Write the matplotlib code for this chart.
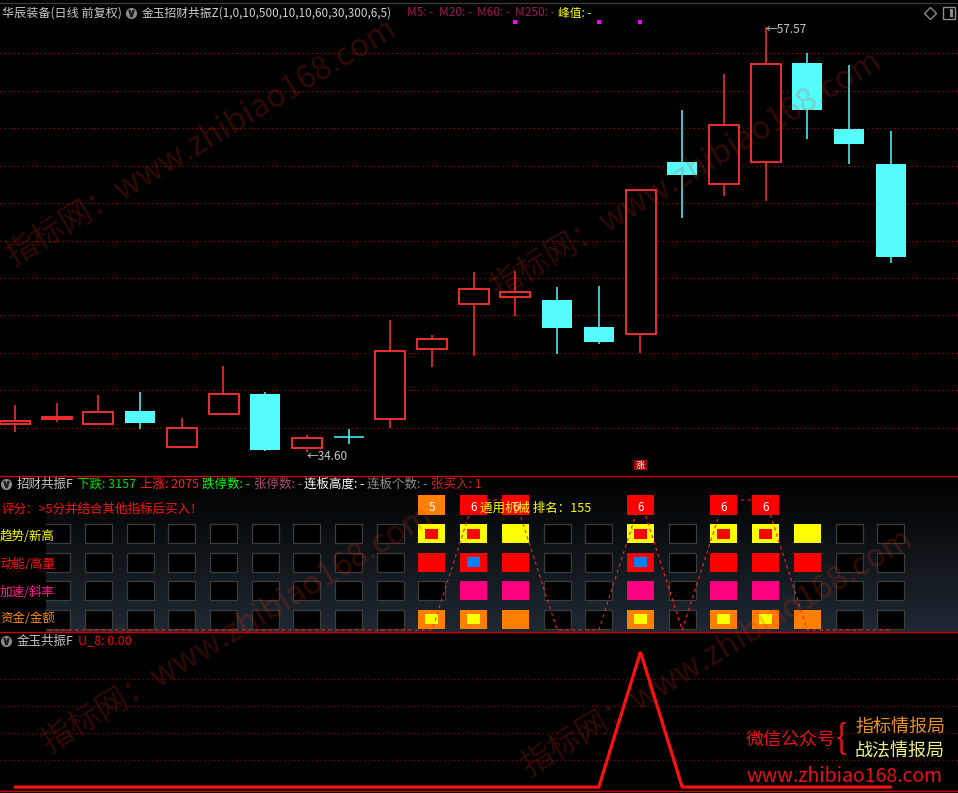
import numpy as np
import matplotlib.pyplot as plt
from matplotlib.patches import Rectangle
from matplotlib.lines import Line2D
from matplotlib.transforms import blended_transform_factory

plt.rcParams['font.family'] = ['Noto Sans CJK SC', 'DejaVu Sans']

# %% data (daily bars)
opens = [36.11, 36.38, 36.11, 36.81, 34.87, 36.65, 37.73, 34.81, 35.41, 36.38, 40.17,
         42.60, 42.98, 42.81, 41.35, 40.98, 50.27, 49.08, 50.27, 55.62, 52.06, 50.17]
highs = [37.14, 37.25, 37.68, 37.84, 36.44, 39.25, 37.84, 35.52, 35.84, 41.73, 40.92,
         44.33, 44.38, 43.52, 43.57, 48.76, 53.08, 55.03, 57.57, 56.16, 55.52, 51.95]
lows = [35.68, 36.22, 36.11, 35.84, 34.87, 36.65, 34.63, 34.60, 35.03, 35.90, 39.19,
        39.79, 41.95, 39.90, 40.44, 39.95, 47.25, 48.44, 48.17, 51.52, 50.17, 44.81]
closes = [36.27, 36.49, 36.76, 36.17, 35.90, 37.73, 34.71, 35.36, 35.41, 40.06, 40.71,
          43.41, 43.25, 41.30, 40.54, 48.76, 49.57, 52.27, 55.57, 53.08, 51.25, 45.14]
ma_idx = [12, 14, 15]
ma_val = [57.84, 57.84, 57.84]
zt_idx = [15]

# indicator panel: 0 = empty, 1 = filled, 2 = filled + inner mark
score = [0, 0, 0, 0, 0, 0, 0, 0, 0, 0, 5, 6, 6, 0, 0, 6, 0, 6, 6, 0, 0, 0]
trend = [0, 0, 0, 0, 0, 0, 0, 0, 0, 0, 2, 2, 1, 0, 0, 2, 0, 2, 2, 1, 0, 0]
momentum = [0, 0, 0, 0, 0, 0, 0, 0, 0, 0, 1, 2, 1, 0, 0, 2, 0, 1, 1, 1, 0, 0]
accel = [0, 0, 0, 0, 0, 0, 0, 0, 0, 0, 0, 1, 1, 0, 0, 1, 0, 1, 1, 0, 0, 0]
funds = [0, 0, 0, 0, 0, 0, 0, 0, 0, 0, 2, 2, 1, 0, 0, 2, 0, 2, 2, 1, 0, 0]
signal = [0, 0, 0, 0, 0, 0, 0, 0, 0, 0, 0, 1, 1, 0, 0, 1, 0, 1, 1, 0, 0, 0]
u8 = [0, 0, 0, 0, 0, 0, 0, 0, 0, 0, 0, 0, 0, 0, 0, 1.0, 0, 0, 0, 0, 0, 0]

row_names = ['趋势/新高', '动能/高量', '加速/斜率', '资金/金额']
row_label_colors = ['#ffff00', '#ff1010', '#ff2090', '#ff8c00']
cell_colors = ['#ffff00', '#ff0000', '#ff0080', '#ff8000']
inner_colors = ['#ff0000', '#0080ff', '#ff0080', '#ffff00']

# %% layout helpers (pixel coords, origin top-left)
W, H = 958, 793
RED = '#ff3232'
CYAN = '#54fcfc'
step = 41.7
x0 = 15


def fx(x):
    return x / W


def fy(y):
    return 1 - y / H


def rect_px(l, t, r, b):
    return [l / W, 1 - b / H, (r - l) / W, (b - t) / H]


def ftxt(x, y, s, color, size=9, **kw):
    fig.text(fx(x), fy(y), s, color=color, fontsize=size, va='center', ha='left', **kw)


def icon(x, y):
    fig.add_artist(Line2D([fx(x)], [fy(y)], marker='o', ms=8, mfc='#8c8c8c', mec='none',
                          transform=fig.transFigure))
    fig.add_artist(Line2D([fx(x)], [fy(y)], marker='$\\vee$', ms=4.5, mfc='#202020', mec='#202020',
                          transform=fig.transFigure))


fig = plt.figure(figsize=(W / 100, H / 100), dpi=100, facecolor='black')
ax1 = fig.add_axes(rect_px(0, 0, W, 475))
axbg = fig.add_axes(rect_px(0, 476, W, 632), zorder=0)
ax2 = fig.add_axes(rect_px(0, 476, W, 632), zorder=1)
ax3 = fig.add_axes(rect_px(0, 633, W, 793))

xlim = (-x0 / step, (W - x0) / step)
for ax in (ax1, ax2, ax3):
    ax.set_xlim(*xlim)
    ax.set_facecolor('black')
    for s in ax.spines.values():
        s.set_visible(False)
    ax.tick_params(length=0, labelleft=False, labelbottom=False)
    ax.set_xticks([])
    ax.set_axisbelow(True)
ax2.set_facecolor('none')

# gradient behind indicator panel
g = np.linspace(0, 1, 128)[:, None]
bottom = np.array([0.12, 0.16, 0.20])
img = g[:, :, None] * bottom[None, None, :]
axbg.imshow(img, aspect='auto', extent=[0, 1, 0, 1])
axbg.set_xlim(0, 1)
axbg.set_ylim(0, 1)
axbg.axis('off')

# %% main candle panel
n = len(opens)
idx = np.arange(n)
bw = 30 / step
for i in idx:
    o, h, l, c = opens[i], highs[i], lows[i], closes[i]
    if c > o:
        ax1.add_patch(Rectangle((i - bw / 2, o), bw, c - o, facecolor='black', edgecolor=RED,
                                lw=1.3, zorder=3))
        ax1.vlines(i, c, h, color=RED, lw=1.1, zorder=3)
        ax1.vlines(i, l, o, color=RED, lw=1.1, zorder=3)
    elif c < o:
        ax1.vlines(i, l, h, color=CYAN, lw=1.1, zorder=2)
        ax1.add_patch(Rectangle((i - bw / 2, c), bw, o - c, facecolor=CYAN, lw=0, zorder=3))
    else:
        ax1.vlines(i, l, h, color=CYAN, lw=1.1, zorder=3)
        ax1.hlines(o, i - bw / 2, i + bw / 2, color=CYAN, lw=1.1, zorder=3)

ax1.set_ylim(33.357, 59.029)
ax1.set_yticks(np.linspace(35.90, 56.16, 11))
ax1.grid(axis='y', color='#c00000', lw=0.8, linestyle=(0, (1, 3)))

ax1.scatter(ma_idx, ma_val, marker='s', s=5, color='#ff00ff', lw=0, zorder=4)

imax = int(np.argmax(highs))
imin = int(np.argmin(lows))
ax1.annotate(f'←{highs[imax]:.2f}', xy=(imax, highs[imax]), xytext=(0, -1.5),
             textcoords='offset points', color='#c8c8c8', fontsize=8.5, va='center', ha='left')
ax1.annotate(f'←{lows[imin]:.2f}', xy=(imin, lows[imin]), xytext=(0, -3),
             textcoords='offset points', color='#c8c8c8', fontsize=8.5, va='center', ha='left')

bt = blended_transform_factory(ax1.transData, ax1.transAxes)
for i in zt_idx:
    ax1.add_patch(Rectangle((i - 6.5 / step, 5 / 475), 13 / step, 10 / 475, transform=bt,
                            facecolor='#a00000', lw=0, zorder=4))
    ax1.text(i, 10 / 475, '涨', transform=bt, color='white', fontsize=6.5, ha='center',
             va='center', zorder=5)

# %% indicator grid panel
ax2.set_ylim((632 - 505) / 28.6, (476 - 505) / 28.6)
cw, ch = 27 / step, 19 / 28.6
iw, ih = 13 / step, 10 / 28.6
for r, vals in enumerate([trend, momentum, accel, funds], start=1):
    for i, v in enumerate(vals):
        if v == 0:
            ax2.add_patch(Rectangle((i - cw / 2, r - ch / 2), cw, ch, facecolor='black',
                                    edgecolor='#3c3c3c', lw=0.9, zorder=2))
        else:
            ax2.add_patch(Rectangle((i - cw / 2, r - ch / 2), cw, ch, facecolor=cell_colors[r - 1],
                                    lw=0, zorder=2))
            if v == 2:
                ax2.add_patch(Rectangle((i - iw / 2, r - ih / 2), iw, ih,
                                        facecolor=inner_colors[r - 1], lw=0, zorder=2.5))

r_lo, r_hi = (630 - 505) / 28.6, (500 - 505) / 28.6
ax2.plot(idx, r_lo + np.array(signal) * (r_hi - r_lo), color='#ff2020', lw=0.8,
         ls=(0, (3, 3)), zorder=3)

for i, s in enumerate(score):
    if s > 0:
        ax2.add_patch(Rectangle((i - cw / 2, -0.35), cw, 0.70,
                                facecolor='#ff8000' if s == 5 else '#ff0000', lw=0, zorder=4))
        ax2.text(i, 0.08, str(s), color='white', ha='center', va='center', fontsize=8.5, zorder=5)

ax2.add_patch(Rectangle((0, 0), 46 / W, 1, transform=ax2.transAxes, facecolor='black', lw=0,
                        zorder=6))

# %% bottom line panel
ax3.set_ylim(-0.044, 1.141)
ax3.set_yticks([0.2, 0.4, 0.6, 0.8])
ax3.grid(axis='y', color='#a00000', lw=0.8, linestyle=(0, (1, 3)))
ax3.plot(idx, u8, color='#ff1010', lw=2.3, solid_capstyle='round', solid_joinstyle='miter', zorder=3)

# %% separators and header texts
for yy, col in [(3, '#3a3a3a'), (476, '#d00000'), (632, '#d00000'), (791, '#d00000')]:
    fig.add_artist(Line2D([0, 1], [fy(yy), fy(yy)], color=col, lw=1, transform=fig.transFigure))

ftxt(2, 13, '华辰装备(日线 前复权)', '#c8c8c8', size=8.7)
icon(131, 13)
ftxt(142, 13, '金玉招财共振Z(1,0,10,500,10,10,60,30,300,6,5)', '#d0d0d0', size=8.5)
for x, s in [(407, 'M5: -'), (439, 'M20: -'), (477, 'M60: -'), (515, 'M250: -')]:
    ftxt(x, 13, s, '#a0145a', size=8.5)
ftxt(558, 13, '峰值: -', '#ffff00', size=8.5)
fig.add_artist(Line2D([fx(930)], [fy(13)], marker='D', ms=6, mfc='none', mec='#8c8c8c', mew=1,
                      transform=fig.transFigure))
fig.add_artist(Rectangle((fx(943), fy(19)), 12 / W, 12 / H, facecolor='none', edgecolor='#8c8c8c',
                         lw=1, transform=fig.transFigure))
fig.add_artist(Rectangle((fx(950), fy(17)), 3 / W, 8 / H, facecolor='#8c8c8c', lw=0,
                         transform=fig.transFigure))

icon(6, 484)
for x, s, col in [(17, '招财共振F', '#c8c8c8'), (77, '下跌: 3157', '#00e000'),
                  (140, '上涨: 2075', '#ff2020'), (202, '跌停数: -', '#00ff00'),
                  (254, '张停数: -', '#b05070'), (304, '连板高度: -', '#ffffff'),
                  (367, '连板个数: -', '#909090'), (431, '张买入: 1', '#e02020')]:
    ftxt(x, 484, s, col)
ftxt(1, 509, '评分：>5分并结合其他指标后买入！', '#ff1010')
for y, s, col in zip([537, 564, 592, 619], row_names, row_label_colors):
    ftxt(0, y, s, col, size=9)
ftxt(480, 508, '通用机械 排名：155', '#ffff00')

icon(6, 641)
ftxt(17, 641, '金玉共振F', '#c8c8c8')
ftxt(78, 641, 'U_8: 0.00', '#ff0000')

# watermark stamps
for x, y in [(12, 266), (497, 298), (48, 753), (528, 776)]:
    fig.text(fx(x), fy(y), '指标网：www.zhibiao168.com', color='#e03010', alpha=0.22,
             fontsize=23, rotation=31, rotation_mode='anchor', ha='left', va='baseline')

ftxt(746, 740, '微信公众号', '#e8101a', size=13)
ftxt(836, 739, '{', '#e8101a', size=24)
ftxt(855, 727, '指标情报局', '#e89020', size=13)
ftxt(855, 751, '战法情报局', '#f0f080', size=13)
ftxt(746, 777, 'www.zhibiao168.com', '#e8101a', size=14)

fig.savefig('out.png', dpi=100, facecolor='black')
